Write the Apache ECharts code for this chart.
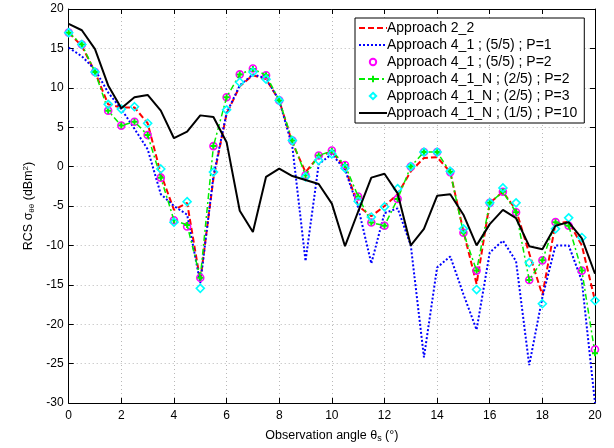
<!DOCTYPE html>
<html><head><meta charset="utf-8">
<script src="https://cdn.jsdelivr.net/npm/echarts@6/dist/echarts.min.js"></script>
<style>html,body{margin:0;padding:0;background:#fff}#c{width:614px;height:448px}</style>
</head><body><div id="c"></div>
<script>
const angles = [0,0.5,1,1.5,2,2.5,3,3.5,4,4.5,5,5.5,6,6.5,7,7.5,8,8.5,9,9.5,10,10.5,11,11.5,12,12.5,13,13.5,14,14.5,15,15.5,16,16.5,17,17.5,18,18.5,19,19.5,20];
const approach22 = [17.0,15.3,12.0,7.9,7.5,7.5,5.5,-0.9,-5.5,-4.6,-14.5,-1.5,6.7,10.2,11.6,11.1,8.4,3.0,-0.7,1.3,1.9,-0.1,-5.0,-6.3,-5.0,-3.5,-0.6,1.1,1.2,-0.7,-8.2,-14.9,-4.6,-3.2,-5.5,-11.0,-16.3,-7.2,-7.0,-10.0,-17.0];
const approach41P1 = [15.1,14.0,12.3,9.4,7.3,4.8,2.2,-3.5,-5.0,-6.1,-14.8,-1.2,6.8,10.3,11.7,11.2,8.4,2.5,-12.0,0.3,1.6,-0.4,-5.2,-12.3,-5.9,-5.3,-10.0,-24.2,-12.8,-11.4,-16.2,-20.7,-10.9,-9.4,-12.0,-25.2,-16.6,-10.0,-10.0,-14.5,-30.0];
const approach41P2 = [17.0,15.5,12.0,7.1,5.2,5.7,4.0,-1.4,-6.8,-7.6,-14.1,2.6,8.8,11.7,12.45,11.6,8.4,3.3,-1.1,1.4,2.05,0.2,-3.8,-7.1,-7.5,-4.1,0.0,1.85,1.85,-0.7,-8.4,-13.2,-4.6,-3.2,-5.8,-14.4,-11.9,-7.05,-7.5,-13.2,-23.2];
const approach41NP2 = [17.0,15.5,12.0,7.1,5.2,5.7,4.0,-1.4,-6.8,-7.4,-14.1,2.6,8.8,11.7,12.4,11.6,8.4,3.3,-1.1,1.4,2.0,0.2,-3.8,-7.1,-7.5,-4.1,0.0,1.85,1.85,-0.7,-8.4,-13.2,-4.6,-3.2,-5.8,-14.4,-11.9,-7.05,-7.5,-13.2,-23.7];
const approach41NP3 = [17.0,15.5,12.0,7.9,7.3,7.6,5.5,-0.3,-7.05,-4.45,-15.45,-0.7,7.2,10.7,12.0,11.1,8.4,3.3,-1.3,0.8,1.6,-0.2,-4.4,-6.4,-5.1,-2.8,0.0,1.85,1.85,-0.6,-7.9,-15.6,-4.6,-2.7,-4.6,-12.2,-17.4,-7.9,-6.5,-9.0,-17.0];
const approach41NP10 = [18.1,17.3,14.9,10.3,7.4,8.8,9.1,7.1,3.6,4.45,6.5,6.3,3.1,-5.6,-8.3,-1.3,-0.25,-1.2,-1.7,-2.2,-4.7,-10.1,-5.7,-1.4,-0.9,-3.4,-10.0,-7.9,-3.7,-3.5,-6.1,-10.0,-7.3,-5.5,-6.55,-10.1,-10.5,-7.5,-7.05,-9.1,-13.6];
const xTicks = [0,2,4,6,8,10,12,14,16,18,20];
const yTicks = [-30,-25,-20,-15,-10,-5,0,5,10,15,20];
const names = ['Approach 2_2','Approach 4_1 ; (5/5) ; P=1','Approach 4_1 ; (5/5) ; P=2','Approach 4_1_N ; (2/5) ; P=2','Approach 4_1_N ; (2/5) ; P=3','Approach 4_1_N ; (1/5) ; P=10'];

function pairs(v){ return angles.map((a,i)=>[a,v[i]]); }
const FONT = 'Liberation Sans, Arial, sans-serif';
const chart = echarts.init(document.getElementById('c'), null, {renderer:'canvas'});
const gridLine = {show:true, lineStyle:{color:'#b8b8b8', type:[1,3], width:1}};
const axLine = {show:true, onZero:false, lineStyle:{color:'#000', width:1}};
const tick = {show:true, inside:true, length:5, lineStyle:{color:'#000'}};
chart.setOption({
  animation:false,
  backgroundColor:'#fff',
  grid:{left:68.7, right:19, top:9, bottom:41.5, show:false},
  xAxis:[
    {type:'value', min:0, max:20, interval:2, position:'bottom',
     axisLine:axLine, axisTick:tick, splitLine:gridLine,
     axisLabel:{color:'#000', fontFamily:FONT, fontSize:12, margin:7},
     name:'Observation angle θ{s|s} (°)', nameLocation:'middle', nameGap:25,
     nameTextStyle:{color:'#000', fontFamily:FONT, fontSize:12.5,
       rich:{s:{fontSize:9, verticalAlign:'bottom', padding:[6,0,0,0], fontFamily:FONT, color:'#000'}}}},
    {type:'value', min:0, max:20, interval:2, position:'top',
     axisLine:axLine, axisTick:tick, splitLine:{show:false}, axisLabel:{show:false}}
  ],
  yAxis:[
    {type:'value', min:-30, max:20, interval:5, position:'left',
     axisLine:axLine, axisTick:tick, splitLine:gridLine,
     axisLabel:{color:'#000', fontFamily:FONT, fontSize:12, margin:5},
     name:'RCS σ{s|θθ} (dBm{p|2})', nameLocation:'middle', nameGap:33, nameRotate:90,
     nameTextStyle:{color:'#000', fontFamily:FONT, fontSize:12.5,
       rich:{s:{fontSize:8, padding:[6,0,0,0], fontFamily:FONT, color:'#000'},
             p:{fontSize:8, padding:[0,0,6,0], fontFamily:FONT, color:'#000'}}}},
    {type:'value', min:-30, max:20, interval:5, position:'right',
     axisLine:axLine, axisTick:tick, splitLine:{show:false}, axisLabel:{show:false}}
  ],
  legend:{
    orient:'vertical', left:355, top:18,
    backgroundColor:'#fff', borderColor:'#000', borderWidth:1,
    padding:[3,7,3,3], itemGap:3, itemWidth:28, itemHeight:8,
    textStyle:{color:'#000', fontFamily:FONT, fontSize:14, lineHeight:14, padding:[0,0,0,-5]},
    data:[
      {name:names[0], itemStyle:{opacity:0}},
      {name:names[1], itemStyle:{opacity:0}},
      {name:names[2]},
      {name:names[3]},
      {name:names[4]},
      {name:names[5], itemStyle:{opacity:0}}
    ]
  },
  series:[
    {name:names[0], type:'line', data:pairs(approach22), showSymbol:false, symbol:'none',
     lineStyle:{color:'#ff0000', width:2, type:[6,3]}, itemStyle:{color:'#ff0000'}, z:2},
    {name:names[1], type:'line', data:pairs(approach41P1), showSymbol:false, symbol:'none',
     lineStyle:{color:'#0000ff', width:2, type:[2,2]}, itemStyle:{color:'#0000ff'}, z:3},
    {name:names[2], type:'line', data:pairs(approach41P2), symbol:'circle', symbolSize:7, showSymbol:true,
     lineStyle:{width:0, opacity:0}, itemStyle:{color:'rgba(255,255,255,0)', borderColor:'#ff00ff', borderWidth:1.6}, z:4},
    {name:names[3], type:'line', data:pairs(approach41NP2), symbol:'path://M0,5L10,5M5,0L5,10', symbolSize:6,
     lineStyle:{color:'#00ee00', width:1.5, type:[6,3,2,3]}, itemStyle:{color:'#00ee00', borderColor:'#00ee00', borderWidth:2}, z:5},
    {name:names[4], type:'line', data:pairs(approach41NP3), symbol:'diamond', symbolSize:8, showSymbol:true,
     lineStyle:{width:0, opacity:0}, itemStyle:{color:'rgba(255,255,255,0)', borderColor:'#00ffff', borderWidth:1.6}, z:6},
    {name:names[5], type:'line', data:pairs(approach41NP10), showSymbol:false, symbol:'none',
     lineStyle:{color:'#000', width:2}, itemStyle:{color:'#000'}, z:7}
  ]
});
</script></body></html>
